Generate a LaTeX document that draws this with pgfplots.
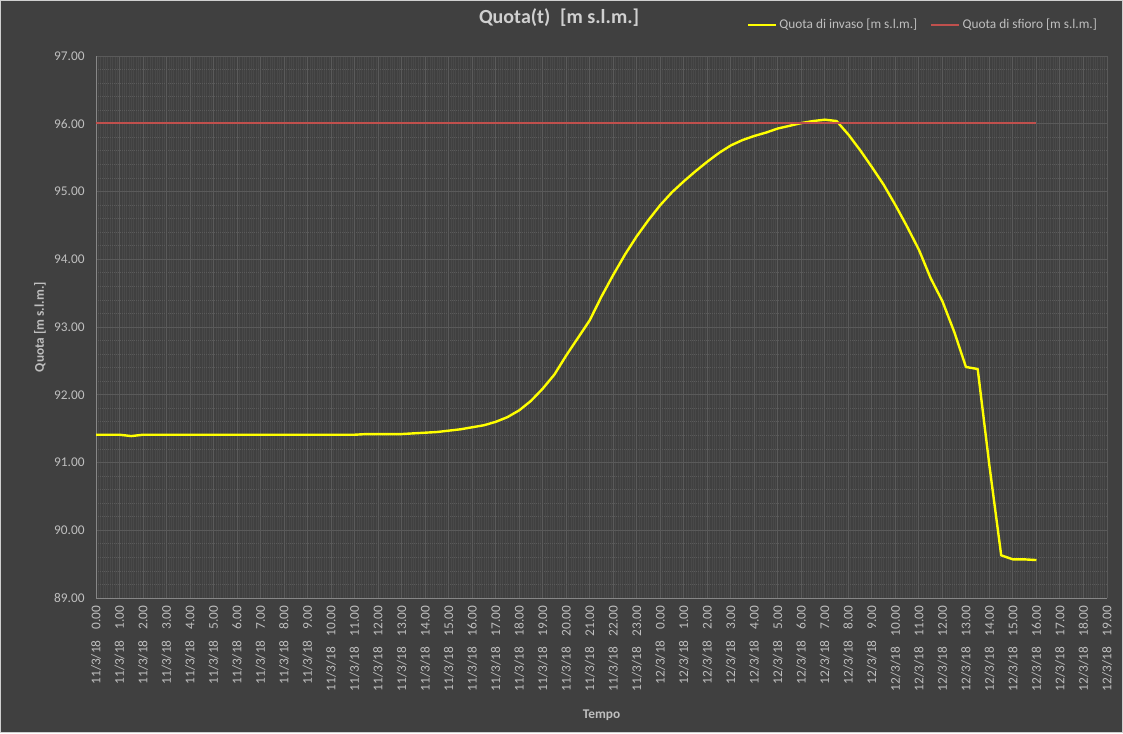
\documentclass[border=0pt]{standalone}
\usepackage{fontspec}
\setmainfont{Carlito}
\usepackage{pgfplots}
\pgfplotsset{compat=1.18}

\definecolor{bgc}{HTML}{404040}
\definecolor{framec}{HTML}{D0D0D0}
\definecolor{gridc}{HTML}{5A5A5A}
\definecolor{minorc}{HTML}{494949}
\definecolor{axisc}{HTML}{878787}
\definecolor{txtc}{HTML}{BFBFBF}
\definecolor{titc}{HTML}{D0D0D0}
\definecolor{invaso}{HTML}{FFFF00}
\definecolor{sfioro}{HTML}{C0504D}

\begin{document}
\begin{tikzpicture}
\useasboundingbox (0,0) rectangle (842.25pt,549.75pt);
\fill[bgc] (0,0) rectangle (842.25pt,549.75pt);
\draw[framec, line width=0.75pt] (0.375pt,0.375pt) rectangle (841.875pt,549.375pt);

\begin{axis}[
	at={(72pt,101.25pt)}, anchor=south west,
	scale only axis,
	width=758.25pt,
	height=406.5pt,
	xmin=0, xmax=43,
	ymin=89, ymax=97,
	axis x line*=bottom,
	axis y line*=left,
	axis line style={axisc, line width=0.75pt, -},
	major tick length=0pt,
	minor tick length=0pt,
	xtick={0,...,43},
	xticklabels={
		11/3/18\hspace{8pt}0.00, 11/3/18\hspace{8pt}1.00, 11/3/18\hspace{8pt}2.00, 11/3/18\hspace{8pt}3.00,
		11/3/18\hspace{8pt}4.00, 11/3/18\hspace{8pt}5.00, 11/3/18\hspace{8pt}6.00, 11/3/18\hspace{8pt}7.00,
		11/3/18\hspace{8pt}8.00, 11/3/18\hspace{8pt}9.00, 11/3/18\hspace{8pt}10.00, 11/3/18\hspace{8pt}11.00,
		11/3/18\hspace{8pt}12.00, 11/3/18\hspace{8pt}13.00, 11/3/18\hspace{8pt}14.00, 11/3/18\hspace{8pt}15.00,
		11/3/18\hspace{8pt}16.00, 11/3/18\hspace{8pt}17.00, 11/3/18\hspace{8pt}18.00, 11/3/18\hspace{8pt}19.00,
		11/3/18\hspace{8pt}20.00, 11/3/18\hspace{8pt}21.00, 11/3/18\hspace{8pt}22.00, 11/3/18\hspace{8pt}23.00,
		12/3/18\hspace{8pt}0.00, 12/3/18\hspace{8pt}1.00, 12/3/18\hspace{8pt}2.00, 12/3/18\hspace{8pt}3.00,
		12/3/18\hspace{8pt}4.00, 12/3/18\hspace{8pt}5.00, 12/3/18\hspace{8pt}6.00, 12/3/18\hspace{8pt}7.00,
		12/3/18\hspace{8pt}8.00, 12/3/18\hspace{8pt}9.00, 12/3/18\hspace{8pt}10.00, 12/3/18\hspace{8pt}11.00,
		12/3/18\hspace{8pt}12.00, 12/3/18\hspace{8pt}13.00, 12/3/18\hspace{8pt}14.00, 12/3/18\hspace{8pt}15.00,
		12/3/18\hspace{8pt}16.00, 12/3/18\hspace{8pt}17.00, 12/3/18\hspace{8pt}18.00, 12/3/18\hspace{8pt}19.00},
	x tick label style={rotate=90, anchor=east, font=\fontsize{10}{12}\selectfont, text=txtc, xshift=-2.5pt},
	ytick={89,...,97},
	minor x tick num=9,
	minor y tick num=4,
	/pgf/number format/assume math mode=true,
	yticklabel style={/pgf/number format/fixed, /pgf/number format/fixed zerofill, /pgf/number format/precision=2},
	y tick label style={font=\fontsize{10}{12}\selectfont, text=txtc, xshift=-5pt},
	xmajorgrids=true, ymajorgrids=true,
	xminorgrids=true, yminorgrids=true,
	major grid style={gridc, line width=0.75pt},
	minor x grid style={minorc, line width=0.4pt},
	minor y grid style={gridc, line width=0.6pt, dash pattern=on 0.75pt off 0.75pt},
	title={Quota(t)\hspace{4pt} [m s.l.m.]},
	title style={at={(axis description cs:0.458,1.0554)}, anchor=center, font=\fontsize{15}{17}\selectfont\bfseries, text=titc},
	xlabel={Tempo},
	xlabel style={at={(axis description cs:0.5,-0.216)}, anchor=center, font=\fontsize{10}{12}\selectfont\bfseries, text=txtc},
	ylabel={Quota [m s.l.m.]},
	ylabel style={at={(axis description cs:-0.0554,0.5)}, anchor=center, rotate=0, font=\fontsize{10}{12}\selectfont\bfseries, text=txtc},
	legend columns=2,
	legend style={at={(axis description cs:0.993,1.0572)}, anchor=east, draw=none, fill=none,
		text=txtc, font=\fontsize{10}{12}\selectfont, inner sep=0pt,
		/tikz/every even column/.append style={column sep=8pt}},
	legend image code/.code={\draw[#1, line width=1pt] (0pt,0pt) -- (21pt,0pt);},
]

\addplot[invaso, line width=1.8pt, line join=round] coordinates {
(0,91.41) (0.5,91.41) (1,91.41) (1.5,91.39) (2,91.41) (2.5,91.41) (3,91.41) (3.5,91.41)
(4,91.41) (4.5,91.41) (5,91.41) (5.5,91.41) (6,91.41) (6.5,91.41) (7,91.41) (7.5,91.41)
(8,91.41) (8.5,91.41) (9,91.41) (9.5,91.41) (10,91.41) (10.5,91.41) (11,91.41) (11.5,91.42)
(12,91.42) (12.5,91.42) (13,91.42) (13.5,91.43) (14,91.44) (14.5,91.45) (15,91.47) (15.5,91.49)
(16,91.52) (16.5,91.55) (17,91.60) (17.5,91.67) (18,91.77) (18.5,91.91) (19,92.09) (19.5,92.30)
(20,92.58) (20.5,92.84) (21,93.10) (21.5,93.45) (22,93.77) (22.5,94.07) (23,94.34) (23.5,94.58)
(24,94.80) (24.5,94.99) (25,95.15) (25.5,95.30) (26,95.44) (26.5,95.57) (27,95.68) (27.5,95.76)
(28,95.82) (28.5,95.87) (29,95.93) (29.5,95.97) (30,96.01) (30.5,96.04) (31,96.06) (31.5,96.04)
(32,95.84) (32.5,95.61) (33,95.36) (33.5,95.10) (34,94.80) (34.5,94.48) (35,94.14) (35.5,93.72)
(36,93.38) (36.5,92.93) (37,92.41) (37.5,92.38) (38,90.95) (38.5,89.63) (39,89.57) (39.5,89.57)
(40,89.56)
};
\addlegendentry{Quota di invaso [m s.l.m.]}

\addplot[sfioro, line width=1.5pt] coordinates {
(0,96.01) (40,96.01)
};
\addlegendentry{Quota di sfioro [m s.l.m.]}

\end{axis}
\end{tikzpicture}
\end{document}
